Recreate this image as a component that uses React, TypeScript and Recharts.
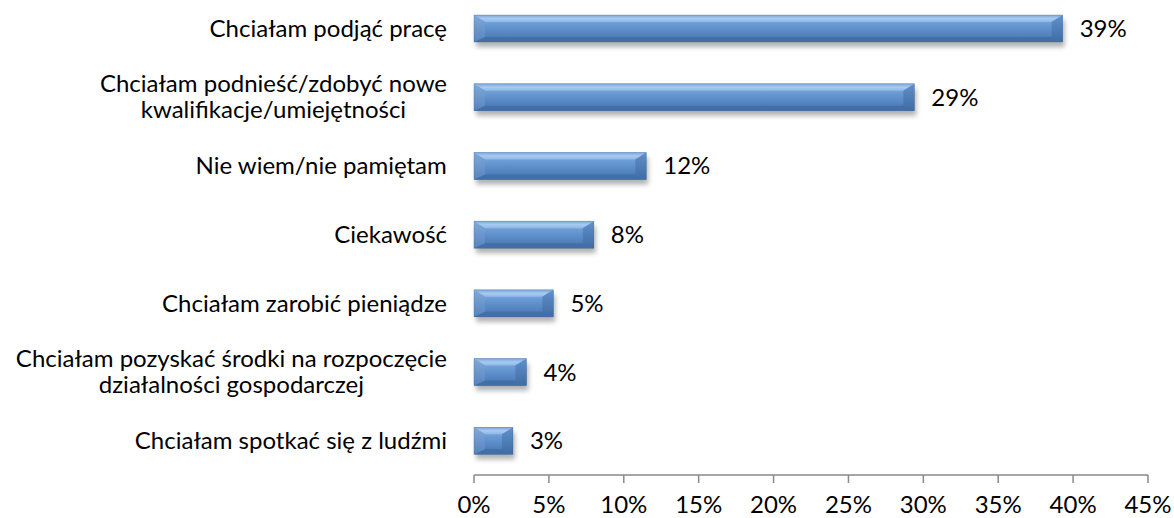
import { Bar, BarChart, LabelList, XAxis, YAxis } from "recharts";

const categories = [
  "Chciałam podjąć pracę",
  "Chciałam podnieść/zdobyć nowe\nkwalifikacje/umiejętności",
  "Nie wiem/nie pamiętam",
  "Ciekawość",
  "Chciałam zarobić pieniądze",
  "Chciałam pozyskać środki na rozpoczęcie\ndziałalności gospodarczej",
  "Chciałam spotkać się z ludźmi",
];
const values = [39.3, 29.4, 11.5, 8.0, 5.3, 3.5, 2.6];
const xTicks = [0, 5, 10, 15, 20, 25, 30, 35, 40, 45];

const data = categories.map((name, i) => ({ name, value: values[i] }));

const FONT = "Lato, 'Open Sans', sans-serif";
const FONT_SIZE = 24;
const LINE_H = 26;

let ctx: CanvasRenderingContext2D | null = null;
function measure(s: string) {
  if (!ctx) ctx = document.createElement("canvas").getContext("2d");
  if (!ctx) return s.length * FONT_SIZE * 0.5;
  ctx.font = `${FONT_SIZE}px Lato`;
  return ctx.measureText(s).width;
}

function CategoryTick(props: any) {
  const { x, y, payload } = props;
  const lines: string[] = String(payload.value).split("\n");
  const maxW = Math.max(...lines.map(measure));
  const cx = x - maxW / 2;
  const y0 = y - ((lines.length - 1) * LINE_H) / 2;
  return (
    <text textAnchor="middle" fontFamily={FONT} fontSize={FONT_SIZE} fill="#000">
      {lines.map((l, i) => (
        <tspan key={i} x={cx} y={y0 + i * LINE_H} dy="0.35em">
          {l}
        </tspan>
      ))}
    </text>
  );
}

function BevelBar(props: any) {
  const { x, y, width, height } = props;
  if (!width || width <= 0) return null;
  const b = Math.min(11, width / 2);
  const t = 7;
  const bt = 5;
  const r = x + width;
  const bot = y + height;
  return (
    <g>
      <rect
        x={x + 2}
        y={y + 5}
        width={width}
        height={height}
        fill="#000"
        opacity={0.3}
        filter="url(#barShadow)"
      />
      <rect x={x} y={y} width={width} height={height} fill="url(#barBody)" />
      <polygon
        points={`${x},${y} ${r},${y} ${r - b},${y + t} ${x + b},${y + t}`}
        fill="url(#barTop)"
      />
      <polygon
        points={`${x},${bot} ${r},${bot} ${r - b},${bot - bt} ${x + b},${bot - bt}`}
        fill="#426fa6"
      />
      <polygon
        points={`${x},${y} ${x + b},${y + t} ${x + b},${bot - bt} ${x},${bot}`}
        fill="url(#barLeft)"
      />
      <polygon
        points={`${r},${y} ${r - b},${y + t} ${r - b},${bot - bt} ${r},${bot}`}
        fill="url(#barRight)"
      />
      <rect
        x={x}
        y={y}
        width={width}
        height={height}
        fill="none"
        stroke="#3a6395"
        strokeWidth={0.6}
        strokeOpacity={0.5}
      />
    </g>
  );
}

export default function App() {
  return (
    <div style={{ width: 1174, height: 518, background: "#fff" }}>
      <style>{`body{margin:0;background:#fff}`}</style>
      <BarChart
        width={1174}
        height={518}
        data={data}
        layout="vertical"
        margin={{ top: -6, right: 26, bottom: 0, left: 0 }}
        barSize={27}
      >
        <defs>
          <filter id="barShadow" x="-10%" y="-50%" width="120%" height="200%">
            <feGaussianBlur stdDeviation="2.5" />
          </filter>
          <linearGradient id="barBody" x1="0" y1="0" x2="0" y2="1">
            <stop offset="0%" stopColor="#8db6e6" />
            <stop offset="35%" stopColor="#6a9ad3" />
            <stop offset="75%" stopColor="#5282bf" />
            <stop offset="100%" stopColor="#416fa8" />
          </linearGradient>
          <linearGradient id="barTop" x1="0" y1="0" x2="0" y2="1">
            <stop offset="0%" stopColor="#7aa6dc" />
            <stop offset="50%" stopColor="#a7cbf0" />
            <stop offset="100%" stopColor="#8cb7e6" />
          </linearGradient>
          <linearGradient id="barLeft" x1="0" y1="0" x2="0" y2="1">
            <stop offset="0%" stopColor="#7fa9dc" />
            <stop offset="100%" stopColor="#5584c0" />
          </linearGradient>
          <linearGradient id="barRight" x1="0" y1="0" x2="0" y2="1">
            <stop offset="0%" stopColor="#6090cb" />
            <stop offset="100%" stopColor="#3f6ca2" />
          </linearGradient>
        </defs>
        <XAxis
          type="number"
          domain={[0, 45]}
          ticks={xTicks}
          tickFormatter={(v) => `${v}%`}
          axisLine={{ stroke: "#898989", strokeWidth: 1.5 }}
          tickLine={{ stroke: "#898989", strokeWidth: 1.5 }}
          tickSize={8}
          tickMargin={13}
          height={43}
          tick={{ fill: "#000", fontSize: FONT_SIZE, fontFamily: FONT }}
          interval={0}
        />
        <YAxis
          type="category"
          dataKey="name"
          width={474}
          axisLine={false}
          tickLine={false}
          tickSize={0}
          tickMargin={27}
          interval={0}
          tick={<CategoryTick />}
        />
        <Bar dataKey="value" shape={<BevelBar />} isAnimationActive={false}>
          <LabelList
            dataKey="value"
            position="right"
            offset={17}
            formatter={(v: any) => `${Math.round(Number(v))}%`}
            fill="#000"
            fontSize={FONT_SIZE}
            fontFamily={FONT}
          />
        </Bar>
      </BarChart>
    </div>
  );
}
